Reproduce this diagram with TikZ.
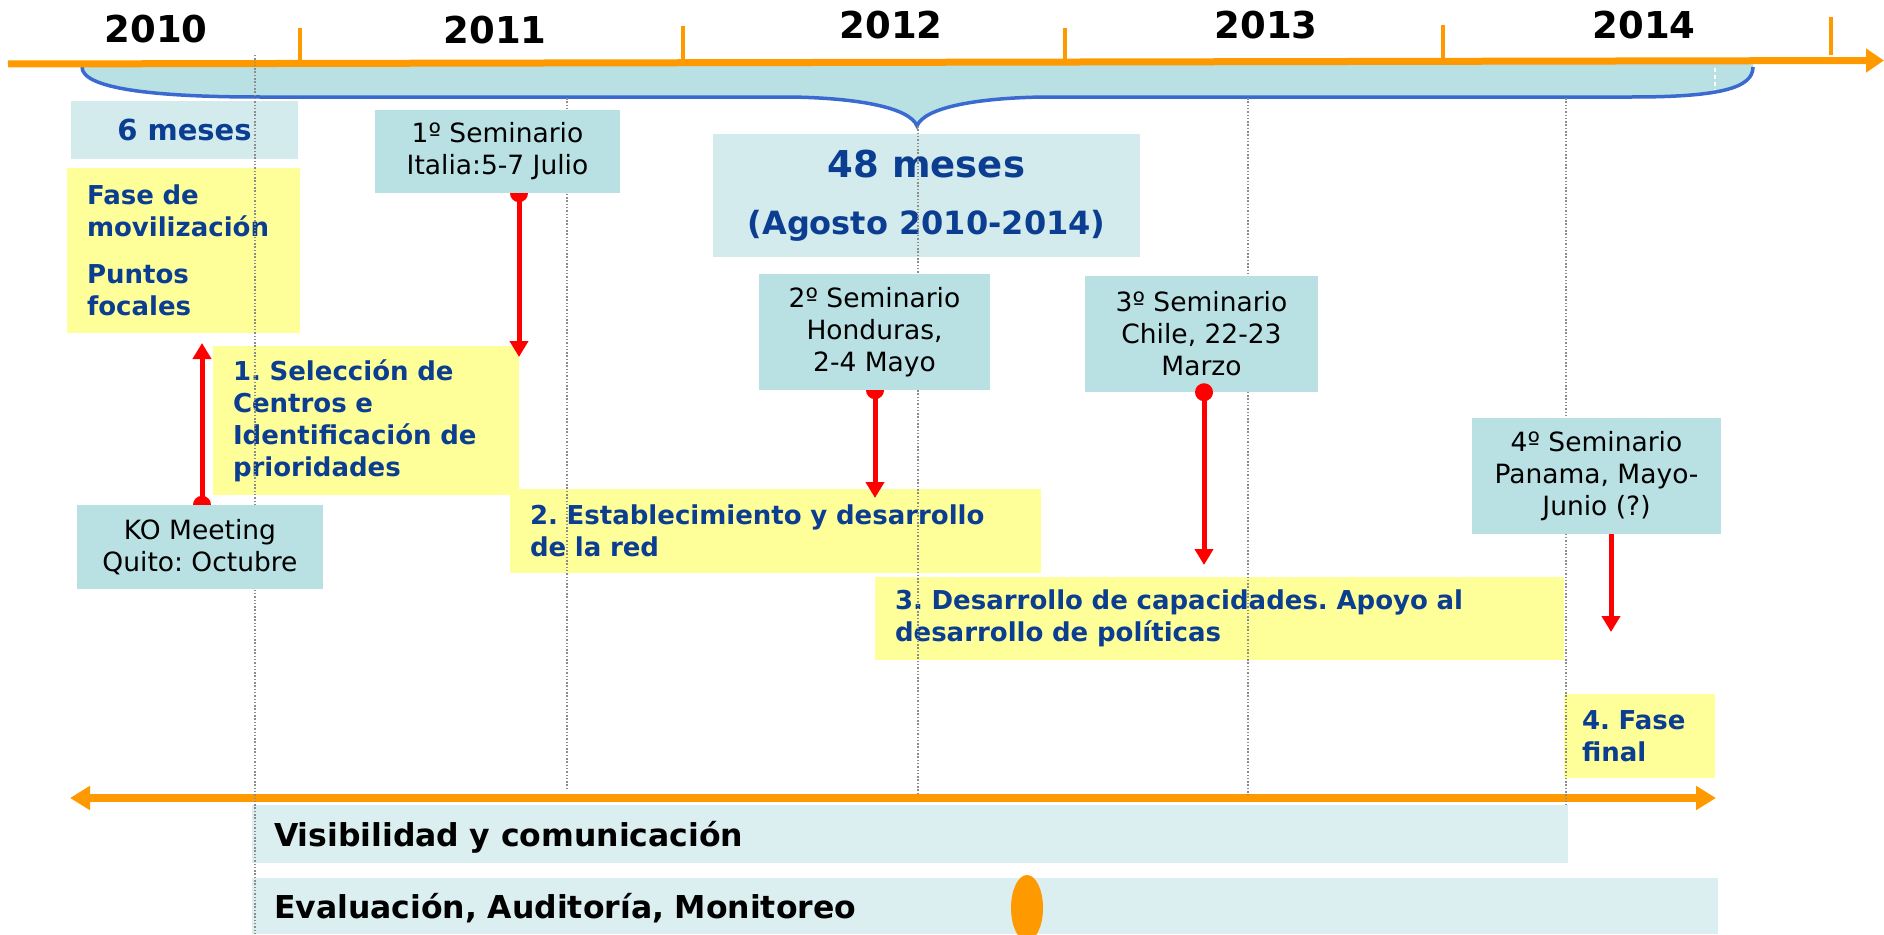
\documentclass[tikz,border=0pt]{standalone}
\usepackage{fontspec}
\setmainfont{DejaVu Sans}
\usetikzlibrary{arrows.meta}
\pgfdeclarelayer{back}
\pgfdeclarelayer{mid}
\pgfsetlayers{back,mid,main}
\definecolor{orng}{HTML}{FF9900}
\definecolor{semblue}{HTML}{B9E0E3}
\definecolor{paleblue}{HTML}{D3EBED}
\definecolor{barblue}{HTML}{DBEEF0}
\definecolor{yel}{HTML}{FFFF99}
\definecolor{txtblue}{HTML}{0B3D91}
\definecolor{braceline}{HTML}{3A6AD0}
\definecolor{arrred}{HTML}{FF0000}
\definecolor{gridgray}{HTML}{8C8C8C}
\tikzset{
  semibox/.style={fill=semblue, inner sep=0pt, align=center, font=\fontsize{26.5}{32}\selectfont},
  palebox/.style={fill=paleblue, inner sep=0pt, align=center, text=txtblue},
  yelbox/.style={fill=yel, inner xsep=20pt, inner ysep=0pt, align=left, text=txtblue, font=\fontsize{26}{32}\selectfont\bfseries},
  barbox/.style={fill=barblue, inner xsep=22pt, inner ysep=0pt, align=left, font=\fontsize{31.5}{36}\selectfont\bfseries, text depth=0pt},
  yearlbl/.style={font=\fontsize{37}{40}\selectfont\bfseries, inner sep=0pt},
  redarrow/.style={draw=arrred, line width=5pt, -{Triangle[length=16pt,width=18pt]}},
  gridln/.style={draw=gridgray, line width=1.2pt, dash pattern=on 1.5pt off 1.8pt},
  tickln/.style={draw=orng, line width=4pt},
}
\frenchspacing
\begin{document}
\begin{tikzpicture}[x=1pt,y=-1pt]
\useasboundingbox (0,0) rectangle (1884,934);
\clip (0,0) rectangle (1884,934);
\begin{pgfonlayer}{back}
% brace
\fill[semblue] (82,62) -- (82,67) .. controls (82,88) and (150,97) .. (260,97) -- (790,97)
  .. controls (860,98) and (910,108) .. (917,126)
  .. controls (924,108) and (974,98) .. (1044,97) -- (1632,97)
  .. controls (1720,97) and (1753,88) .. (1753,67) -- (1753,62) -- cycle;
\draw[braceline, line width=3.5pt] (82,67) .. controls (82,88) and (150,97) .. (260,97) -- (790,97)
  .. controls (860,98) and (910,108) .. (917,126)
  .. controls (924,108) and (974,98) .. (1044,97) -- (1632,97)
  .. controls (1720,97) and (1753,88) .. (1753,67);
\draw[white, line width=1.2pt, dash pattern=on 4pt off 3pt] (1715,68) -- (1715,90);
% axis
\draw[orng, line width=7pt, -{Triangle[length=18pt,width=23pt]}] (8,64) -- (1884,60.5);
\draw[tickln] (300,28) -- (300,62);
\draw[tickln] (683,26) -- (683,62);
\draw[tickln] (1065,28) -- (1065,62);
\draw[tickln] (1443,25) -- (1443,61);
\draw[tickln] (1831,17) -- (1831,55);
\node[yearlbl, anchor=base] (y10) at (156,43) {2010};
\node[yearlbl, anchor=base] (y11) at (495,44) {2011};
\node[yearlbl, anchor=base] (y12) at (891,39) {2012};
\node[yearlbl, anchor=base] (y13) at (1266,38.5) {2013};
\node[yearlbl, anchor=base] (y14) at (1644,38.5) {2014};
% pale boxes
\node[palebox, minimum width=227pt, minimum height=58pt, font=\fontsize{29}{32}\selectfont\bfseries] (six) at (184.5,130) {6 meses};
\node[palebox, minimum width=427pt, minimum height=123pt, font=\fontsize{37}{57}\selectfont\bfseries] (mes48) at (926.5,195.5) {48 meses\\{\fontsize{32}{57}\selectfont (Agosto 2010-2014)}};
% yellow boxes
\node[yelbox, text width=193pt, minimum height=165pt] (fase) at (183.5,250.5) {Fase de\\movilización\\[15pt]Puntos\\focales};
\node[yelbox, text width=266pt, minimum height=149pt] (sel) at (366,420.5) {1. Selección de\\Centros e\\Identificación de\\prioridades};
\node[yelbox, text width=491pt, minimum height=84pt] (est) at (775.5,531) {2. Establecimiento y desarrollo\\de la red};
\node[yelbox, text width=649pt, minimum height=83pt] (cap) at (1219.5,618.5) {3. Desarrollo de capacidades. Apoyo al\\desarrollo de políticas};
\node[yelbox, inner xsep=18pt, text width=115pt, minimum height=84pt] (fin) at (1639.5,736) {4. Fase\\final};
% bars
\draw[orng, line width=8pt, {Triangle[length=20pt,width=23pt]}-{Triangle[length=20pt,width=23pt]}] (70,798) -- (1716,798);
\node[barbox, text width=1272pt, minimum height=58pt, text height=25pt] (vis) at (910,834) {Visibilidad y comunicación};
\node[barbox, text width=1422pt, minimum height=56pt, text height=24pt] (eva) at (985,906) {Evaluación, Auditoría, Monitoreo};
\fill[orng] (1027,908) ellipse[x radius=16pt, y radius=33pt];
% grid lines
\draw[gridln] (255,55) -- (255,934);
\draw[gridln] (567,98) -- (567,790);
\draw[gridln] (918,126) -- (918,795);
\draw[gridln] (1248,98) -- (1248,795);
\draw[gridln] (1566,98) -- (1566,805);
\end{pgfonlayer}
% seminar boxes
\node[semibox, minimum width=245pt, minimum height=83pt] (sem1) at (497.5,151.5) {1º Seminario\\Italia:5-7 Julio};
\node[semibox, minimum width=231pt, minimum height=116pt] (sem2) at (874.5,332) {2º Seminario\\Honduras,\\2-4 Mayo};
\node[semibox, minimum width=233pt, minimum height=116pt] (sem3) at (1201.5,334) {3º Seminario\\Chile, 22-23\\Marzo};
\node[semibox, minimum width=249pt, minimum height=116pt] (sem4) at (1596.5,476) {4º Seminario\\Panama, Mayo-\\Junio (?)};
\node[semibox, minimum width=246pt, minimum height=84pt] (ko) at (200,547) {KO Meeting\\Quito: Octubre};
\coordinate (t1) at (519,357);
\coordinate (t2) at (875,498);
\coordinate (t3) at (1204,565);
\coordinate (t4) at (1611,632);
\coordinate (tko) at (202,343);
\begin{pgfonlayer}{mid}
\draw[redarrow] (sem1.south -| t1) -- (t1);
\fill[arrred] (sem1.south -| t1) circle[radius=9pt];
\draw[redarrow] (sem2.south -| t2) -- (t2);
\fill[arrred] (sem2.south -| t2) circle[radius=9pt];
\draw[redarrow] (sem3.south -| t3) -- (t3);
\draw[redarrow] (sem4.south -| t4) -- (t4);
\draw[redarrow] (ko.north -| tko) -- (tko);
\fill[arrred] (ko.north -| tko) circle[radius=9pt];
\end{pgfonlayer}
\fill[arrred] (sem3.south -| t3) circle[radius=9pt];
\end{tikzpicture}
\end{document}
